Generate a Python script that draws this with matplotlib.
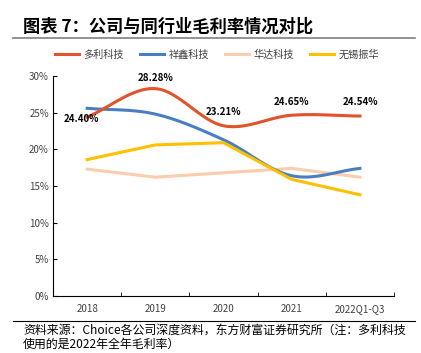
import matplotlib
matplotlib.use("Agg")
import matplotlib.pyplot as plt
import numpy as np

plt.rcParams["font.family"] = ["Noto Sans CJK SC", "DejaVu Sans"]

categories = ["2018", "2019", "2020", "2021", "2022Q1-Q3"]
duoli = [24.40, 28.28, 23.21, 24.65, 24.54]
xiangxin = [25.6, 24.8, 21.3, 16.4, 17.4]
huada = [17.3, 16.2, 16.8, 17.4, 16.2]
zhenhua = [18.6, 20.6, 20.9, 15.9, 13.8]
series_names = ["多利科技", "祥鑫科技", "华达科技", "无锡振华"]
colors = ["#E2522B", "#4A7EC2", "#F9CDAE", "#FFC000"]


def smooth(y, n=30):
    # Catmull-Rom style smoothing, like Excel "smoothed line"
    y = np.asarray(y, dtype=float)
    x = np.arange(len(y), dtype=float)
    px = np.concatenate([[2 * x[0] - x[1]], x, [2 * x[-1] - x[-2]]])
    py = np.concatenate([[2 * y[0] - y[1]], y, [2 * y[-1] - y[-2]]])
    xs, ys = [], []
    for i in range(1, len(px) - 2):
        t = np.linspace(0, 1, n, endpoint=False)
        for p, out in ((px, xs), (py, ys)):
            p0, p1, p2, p3 = p[i - 1], p[i], p[i + 1], p[i + 2]
            out.extend(0.5 * (2 * p1 + (-p0 + p2) * t
                              + (2 * p0 - 5 * p1 + 4 * p2 - p3) * t ** 2
                              + (-p0 + 3 * p1 - 3 * p2 + p3) * t ** 3))
    xs.append(x[-1])
    ys.append(y[-1])
    return np.array(xs), np.array(ys)


fig = plt.figure(figsize=(4.21, 3.53), dpi=100)
ax = fig.add_axes([0.126, 0.1615, 0.81, 0.6232])

x = np.arange(len(categories))
lw = 2.2
sx, sy = smooth(duoli)
ax.plot(sx, sy, color=colors[0], lw=lw, label=series_names[0], zorder=4)
bx, by = smooth(xiangxin)
ax.plot(bx, by, color=colors[1], lw=lw, label=series_names[1], zorder=3)
ax.plot(x, huada, color=colors[2], lw=lw, label=series_names[2], zorder=2)
ax.plot(x, zhenhua, color=colors[3], lw=lw, label=series_names[3], zorder=3)

offsets = [(-0.08, -0.2), (0, 1.4), (0, 1.9), (0, 1.85), (0, 1.9)]
for i, v in enumerate(duoli):
    dx, dy = offsets[i]
    ax.text(i + dx, v + dy, f"{v:.2f}%", ha="center", va="center",
            fontsize=7, fontweight="bold", color="black", zorder=5)

ax.set_xlim(-0.5, len(categories) - 0.5)
ax.set_ylim(0, 30)
ax.set_yticks(range(0, 31, 5))
ax.set_yticklabels([f"{v}%" for v in range(0, 31, 5)])
ax.set_xticks(x)
ax.set_xticklabels(categories)
ax.set_xticks(np.arange(0.5, len(categories), 1), minor=True)
ax.tick_params(axis="x", which="major", length=0, labelsize=7, colors="#404040", pad=6)
ax.tick_params(axis="x", which="minor", length=3, direction="in", color="black")
ax.tick_params(axis="y", length=3, direction="in", labelsize=7, colors="#404040", pad=3)
ax.tick_params(axis="y", color="black")
for s in ("top", "right"):
    ax.spines[s].set_visible(False)
for s in ("left", "bottom"):
    ax.spines[s].set_color("black")
    ax.spines[s].set_linewidth(0.8)

fig.legend(loc="center", bbox_to_anchor=(0.515, 0.845), ncol=4, frameon=False,
           fontsize=7.3, handlelength=2.4, handletextpad=0.4, columnspacing=1.6,
           labelcolor="#404040")

fig.text(0.055, 0.925, "图表 7：公司与同行业毛利率情况对比", fontsize=12.4,
         fontweight="bold", ha="left", va="center")
fig.add_artist(plt.Line2D([0.03, 0.985], [0.893, 0.893], color="#808080", lw=1.2))
fig.add_artist(plt.Line2D([0.03, 0.985], [0.09, 0.09], color="black", lw=0.8))
fig.text(0.055, 0.066, "资料来源：Choice各公司深度资料，东方财富证券研究所（注：多利科技",
         fontsize=8.6, ha="left", va="center")
fig.text(0.055, 0.025, "使用的是2022年全年毛利率）", fontsize=8.6, ha="left", va="center")

fig.savefig("out.png", dpi=100)
